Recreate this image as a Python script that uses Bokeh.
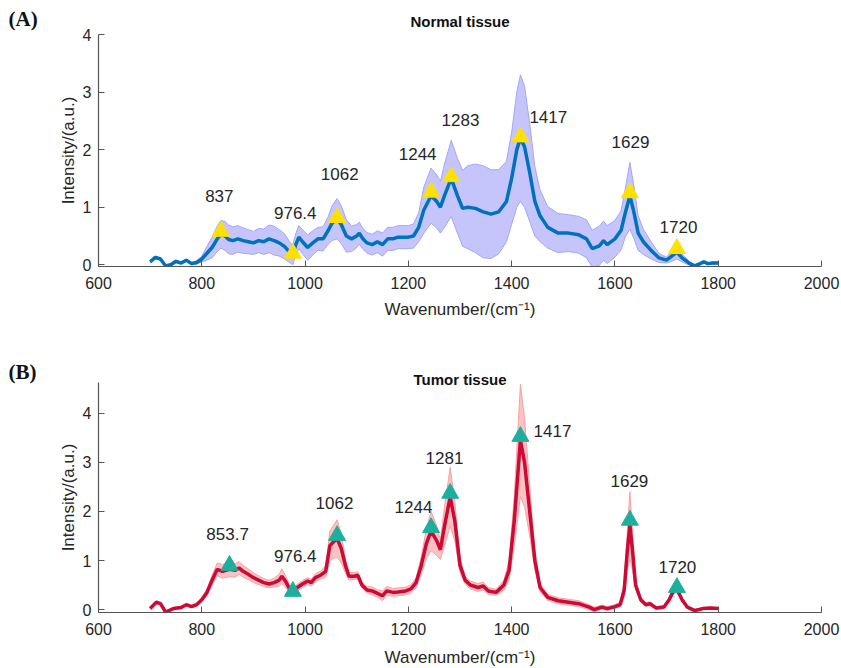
from bokeh.plotting import figure
from bokeh.layouts import column, row
from bokeh.models import ColumnDataSource, FixedTicker, Title
from bokeh.core.properties import value
from bokeh.embed import file_html
from bokeh.resources import INLINE

# ---------------- data: Normal tissue ----------------
wn_normal = [700, 710, 720, 730, 740, 750, 760, 770, 780, 790, 800, 810, 820, 830, 837, 845, 852, 860, 870, 880,
             890, 900, 910, 920, 930, 940, 950, 960, 970, 976, 982, 988, 995, 1005, 1015, 1025, 1035, 1045, 1052, 1062,
             1070, 1080, 1090, 1100, 1105, 1112, 1120, 1130, 1140, 1150, 1160, 1170, 1180, 1190, 1200, 1210, 1220, 1230, 1244, 1255,
             1262, 1270, 1283, 1295, 1305, 1315, 1330, 1345, 1360, 1375, 1390, 1400, 1410, 1417, 1425, 1435, 1445, 1455, 1470, 1490,
             1510, 1530, 1545, 1556, 1570, 1578, 1585, 1600, 1612, 1620, 1629, 1637, 1645, 1655, 1670, 1685, 1700, 1710, 1720, 1730,
             1745, 1755, 1765, 1772, 1780, 1790, 1800]
mean_normal = [0.05, 0.13, 0.10, -0.02, 0.00, 0.06, 0.03, 0.08, 0.02, 0.04, 0.10, 0.20, 0.30, 0.45, 0.53, 0.50, 0.44, 0.42, 0.45, 0.42,
               0.40, 0.38, 0.42, 0.40, 0.45, 0.42, 0.38, 0.32, 0.22, 0.17, 0.35, 0.48, 0.40, 0.30, 0.38, 0.45, 0.45, 0.60, 0.72, 0.80,
               0.70, 0.50, 0.45, 0.50, 0.55, 0.45, 0.38, 0.35, 0.40, 0.35, 0.45, 0.45, 0.48, 0.48, 0.48, 0.50, 0.65, 0.95, 1.20, 1.10,
               1.00, 1.20, 1.50, 1.20, 0.98, 1.00, 0.98, 0.92, 0.88, 0.92, 1.10, 1.50, 2.00, 2.20, 2.05, 1.60, 1.10, 0.85, 0.65, 0.55,
               0.55, 0.52, 0.45, 0.28, 0.33, 0.42, 0.35, 0.45, 0.60, 0.90, 1.20, 0.90, 0.55, 0.40, 0.25, 0.12, 0.08, 0.15, 0.22, 0.12,
               0.02, -0.02, 0.02, 0.05, 0.02, 0.03, 0.03]
sd_normal = [0.02, 0.02, 0.02, 0.02, 0.02, 0.02, 0.02, 0.02, 0.02, 0.03, 0.05, 0.12, 0.18, 0.22, 0.24, 0.25, 0.25, 0.24, 0.23, 0.22,
             0.21, 0.20, 0.21, 0.22, 0.24, 0.25, 0.23, 0.22, 0.18, 0.17, 0.19, 0.20, 0.21, 0.22, 0.21, 0.20, 0.21, 0.24, 0.30, 0.35,
             0.33, 0.28, 0.22, 0.20, 0.19, 0.18, 0.18, 0.18, 0.19, 0.20, 0.20, 0.20, 0.20, 0.20, 0.20, 0.21, 0.25, 0.40, 0.48, 0.46,
             0.45, 0.55, 0.66, 0.65, 0.66, 0.72, 0.77, 0.80, 0.77, 0.73, 0.70, 0.80, 1.00, 1.10, 1.05, 0.85, 0.60, 0.45, 0.36, 0.34,
             0.32, 0.32, 0.33, 0.32, 0.34, 0.34, 0.33, 0.32, 0.34, 0.42, 0.58, 0.45, 0.30, 0.22, 0.15, 0.08, 0.05, 0.09, 0.12, 0.07,
             0.03, 0.02, 0.02, 0.02, 0.02, 0.02, 0.02]
peak_x_normal = [837, 976.4, 1062, 1244, 1283, 1417, 1629, 1720]
peak_y_normal = [0.58, 0.20, 0.82, 1.26, 1.53, 2.22, 1.25, 0.28]
peak_text_normal = ["837", "976.4", "1062", "1244", "1283", "1417", "1629", "1720"]
label_x_normal = [834, 981, 1067, 1218, 1301, 1471, 1630, 1723]
label_y_normal = [1.20, 0.90, 1.58, 1.93, 2.52, 2.57, 2.14, 0.66]

# ---------------- data: Tumor tissue ----------------
wn_tumor = [700, 712, 720, 730, 745, 760, 770, 780, 790, 800, 810, 820, 830, 840, 853.7, 865, 872, 880, 890, 900,
            910, 920, 930, 940, 950, 955, 962, 970, 976, 985, 995, 1005, 1012, 1020, 1030, 1040, 1048, 1055, 1062, 1070,
            1078, 1085, 1095, 1102, 1110, 1120, 1130, 1140, 1150, 1158, 1170, 1180, 1195, 1205, 1215, 1225, 1235, 1244, 1255, 1262,
            1270, 1281, 1290, 1300, 1310, 1320, 1335, 1345, 1355, 1370, 1385, 1395, 1405, 1417, 1425, 1435, 1445, 1455, 1470, 1490,
            1510, 1530, 1550, 1560, 1575, 1585, 1600, 1610, 1618, 1624, 1629, 1634, 1640, 1650, 1660, 1668, 1680, 1695, 1705, 1712,
            1720, 1730, 1740, 1755, 1770, 1785, 1800]
mean_tumor = [0.02, 0.15, 0.12, -0.05, 0.02, 0.04, 0.10, 0.06, 0.10, 0.20, 0.35, 0.60, 0.82, 0.78, 0.82, 0.80, 0.85, 0.78, 0.72, 0.65,
              0.60, 0.55, 0.52, 0.55, 0.60, 0.68, 0.58, 0.42, 0.35, 0.45, 0.52, 0.58, 0.55, 0.65, 0.70, 0.78, 1.30, 1.38, 1.45, 1.25,
              0.90, 0.68, 0.68, 0.70, 0.50, 0.40, 0.38, 0.33, 0.28, 0.38, 0.35, 0.36, 0.38, 0.42, 0.55, 0.90, 1.35, 1.60, 1.40, 1.22,
              1.70, 2.30, 1.80, 0.90, 0.60, 0.50, 0.45, 0.48, 0.38, 0.35, 0.50, 0.80, 1.80, 3.45, 3.00, 2.00, 1.00, 0.45, 0.25, 0.18,
              0.15, 0.12, 0.05, 0.00, 0.05, 0.02, 0.06, 0.10, 0.40, 1.20, 1.72, 1.20, 0.50, 0.20, 0.10, 0.12, 0.03, 0.05, 0.20, 0.35,
              0.42, 0.20, 0.05, -0.02, 0.02, 0.03, 0.02]
sd_tumor = [0.02, 0.02, 0.02, 0.02, 0.02, 0.02, 0.02, 0.02, 0.03, 0.04, 0.07, 0.10, 0.13, 0.14, 0.15, 0.14, 0.13, 0.12, 0.11, 0.10,
            0.09, 0.08, 0.08, 0.09, 0.12, 0.15, 0.12, 0.08, 0.06, 0.07, 0.07, 0.07, 0.07, 0.08, 0.08, 0.12, 0.30, 0.34, 0.38, 0.30,
            0.15, 0.08, 0.07, 0.07, 0.06, 0.07, 0.08, 0.08, 0.10, 0.09, 0.08, 0.08, 0.08, 0.08, 0.10, 0.18, 0.30, 0.40, 0.30, 0.20,
            0.40, 0.60, 0.40, 0.15, 0.08, 0.08, 0.08, 0.08, 0.07, 0.06, 0.10, 0.20, 0.50, 1.15, 0.90, 0.50, 0.20, 0.08, 0.06, 0.06,
            0.06, 0.06, 0.05, 0.05, 0.04, 0.04, 0.04, 0.05, 0.15, 0.40, 0.68, 0.40, 0.10, 0.05, 0.04, 0.04, 0.03, 0.03, 0.04, 0.05,
            0.06, 0.04, 0.03, 0.02, 0.02, 0.02, 0.02]
peak_x_tumor = [853.7, 976.4, 1062, 1244, 1281, 1417, 1629, 1720]
peak_y_tumor = [0.90, 0.37, 1.51, 1.67, 2.37, 3.53, 1.82, 0.45]
peak_text_tumor = ["853.7", "976.4", "1062", "1244", "1281", "1417", "1629", "1720"]
label_x_tumor = [850, 981, 1057, 1210, 1270, 1479, 1628, 1721]
label_y_tumor = [1.55, 1.10, 2.18, 2.10, 3.10, 3.65, 2.63, 0.86]

x_ticks = [600, 800, 1000, 1200, 1400, 1600, 1800, 2000]
y_ticks = [0, 1, 2, 3, 4]

FONT = "Liberation Sans"
AXIS_COL = "#555555"
TEXT_COL = "#262626"
TAG_W = 50


def make_panel(wn, mean, sd, px, py, ptxt, lx, ly, yr, frame_h, top_b, bot_b, xlab_standoff,
               line_col, fill_col, edge_col, mark_col, title, title_standoff):
    upper = [m + s for m, s in zip(mean, sd)]
    lower = [m - s for m, s in zip(mean, sd)]
    src = ColumnDataSource(dict(x=wn, mean=mean, up=upper, lo=lower))
    p = figure(frame_width=723, frame_height=frame_h, x_range=(600, 2000), y_range=yr,
               output_backend="svg", toolbar_location=None,
               min_border_left=98 - TAG_W, min_border_right=20, min_border_top=top_b, min_border_bottom=bot_b)
    p.outline_line_color = None
    p.grid.visible = False
    p.background_fill_color = "white"
    p.border_fill_color = "white"

    p.varea(x="x", y1="lo", y2="up", source=src, fill_color=fill_col, fill_alpha=1.0)
    p.line(x="x", y="up", source=src, line_color=edge_col, line_width=1)
    p.line(x="x", y="lo", source=src, line_color=edge_col, line_width=1)
    p.line(x="x", y="mean", source=src, line_color=line_col, line_width=3.5)

    msrc = ColumnDataSource(dict(x=px, y=py))
    p.scatter(x="x", y="y", source=msrc, marker="triangle", size=17,
              fill_color=mark_col, line_color=mark_col)

    tsrc = ColumnDataSource(dict(x=lx, y=ly, t=ptxt))
    p.text(x="x", y="y", text="t", source=tsrc, text_font=value(FONT),
           text_font_size="17px", text_color=TEXT_COL,
           text_align="center", text_baseline="middle")

    for ax in (p.xaxis[0], p.yaxis[0]):
        ax.axis_line_color = AXIS_COL
        ax.axis_line_width = 1.2
        ax.major_tick_line_color = AXIS_COL
        ax.major_tick_in = 6
        ax.major_tick_out = 0
        ax.minor_tick_line_color = None
        ax.major_label_text_font = FONT
        ax.major_label_text_font_size = "16px"
        ax.major_label_text_color = TEXT_COL
        ax.axis_label_text_font = FONT
        ax.axis_label_text_font_size = "17px"
        ax.axis_label_text_font_style = "normal"
        ax.axis_label_text_color = TEXT_COL
    p.xaxis[0].ticker = FixedTicker(ticks=x_ticks)
    p.yaxis[0].ticker = FixedTicker(ticks=y_ticks)
    p.xaxis[0].axis_label = "Wavenumber/(cm\u207b\u00b9)"
    p.yaxis[0].axis_label = "Intensity/(a.u.)"
    p.xaxis[0].major_label_standoff = 10
    p.xaxis[0].axis_label_standoff = xlab_standoff
    p.yaxis[0].major_label_standoff = 7
    p.yaxis[0].axis_label_standoff = 2

    p.title = Title(text=title, align="center", text_font=FONT, text_font_size="15px",
                    text_font_style="bold", text_color="#111111", standoff=title_standoff,
                    vertical_align="bottom")
    return p


def make_tag(tag, height, top_b, frame_h, bot_b, tag_standoff):
    # narrow strip left of each panel; the panel letter is this strip's title
    t = figure(width=TAG_W, frame_height=frame_h, x_range=(0, 1), y_range=(0, 1),
               output_backend="svg", toolbar_location=None,
               min_border_left=0, min_border_right=0, min_border_top=top_b, min_border_bottom=bot_b)
    t.axis.visible = False
    t.grid.visible = False
    t.outline_line_color = None
    t.border_fill_color = "white"
    t.background_fill_color = "white"
    t.title = Title(text=tag, align="left", offset=8, text_font="Liberation Serif",
                    text_font_size="21px", text_font_style="bold", text_color="#111111",
                    standoff=tag_standoff, vertical_align="bottom")
    return t


p1 = make_panel(wn_normal, mean_normal, sd_normal, peak_x_normal, peak_y_normal, peak_text_normal,
                label_x_normal, label_y_normal, (-0.03, 4.0), 232, 34, 66, 8,
                "#0072BD", "#C5C5FC", "#A3A6F7", "#FFE000", "Normal tissue", 10)
p2 = make_panel(wn_tumor, mean_tumor, sd_tumor, peak_x_tumor, peak_y_tumor, peak_text_tumor,
                label_x_tumor, label_y_tumor, (-0.06, 4.63), 230, 50, 56, 10,
                "#CC0A35", "#FAC2C2", "#F5A3A6", "#1CB09C", "Tumor tissue", -10)
t1 = make_tag("(A)", 332, 34, 232, 66, 8)
t2 = make_tag("(B)", 336, 50, 230, 56, -2)

layout = column(row(t1, p1, spacing=0), row(t2, p2, spacing=0), spacing=0)
open("out.html", "w").write(file_html(layout, INLINE))
